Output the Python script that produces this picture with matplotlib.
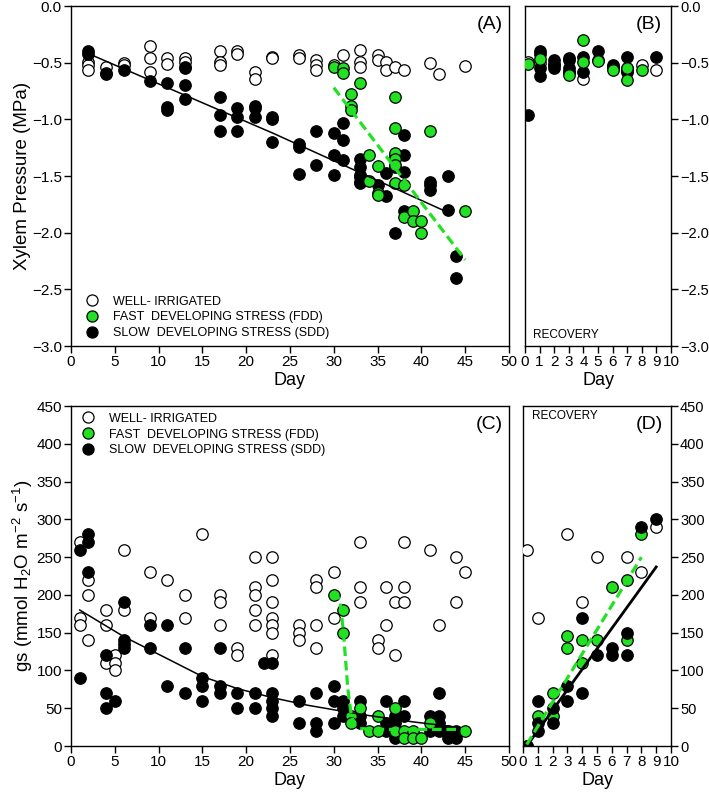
import numpy as np
import matplotlib
matplotlib.use("Agg")
import matplotlib.pyplot as plt
from matplotlib.lines import Line2D

plt.rcParams['font.family'] = ['Liberation Sans', 'DejaVu Sans']
plt.rcParams['mathtext.fontset'] = 'custom'
plt.rcParams['mathtext.rm'] = 'Liberation Sans'
plt.rcParams['mathtext.it'] = 'Liberation Sans:italic'

GREEN = '#22e022'

# ---------------- Panel A: xylem pressure during stress ----------------
a_wi_day = [2, 2, 2, 4, 4, 6, 6, 9, 9, 9, 11, 11, 13, 13, 17, 17, 17, 19, 19, 21, 21,
            23, 23, 26, 26, 28, 28, 28, 30, 31, 33, 33, 33, 35, 35, 36, 36, 37, 38, 41, 42, 45]
a_wi_val = [-0.49, -0.52, -0.56, -0.535, -0.59, -0.50, -0.52, -0.35, -0.46, -0.58, -0.46, -0.51,
            -0.46, -0.49, -0.40, -0.49, -0.52, -0.40, -0.42, -0.58, -0.64, -0.45, -0.46, -0.43,
            -0.46, -0.48, -0.52, -0.56, -0.52, -0.43, -0.39, -0.49, -0.535, -0.43, -0.48, -0.49,
            -0.56, -0.54, -0.56, -0.50, -0.60, -0.53]

a_sdd_day = [2, 2, 4, 6, 9, 11, 11, 11, 13, 13, 13, 13, 17, 17, 17, 19, 19, 19, 21, 21, 21,
             23, 23, 23, 26, 26, 26, 28, 28, 30, 30, 30, 31, 31, 31, 33, 33, 33, 33, 33, 33,
             35, 36, 36, 37, 37, 37, 38, 38, 38, 38, 41, 41, 41, 43, 43, 44, 44]
a_sdd_val = [-0.40, -0.42, -0.60, -0.565, -0.66, -0.68, -0.89, -0.92, -0.535, -0.55, -0.70, -0.82,
             -0.80, -0.96, -1.10, -0.90, -0.98, -1.10, -0.88, -0.90, -0.98, -0.98, -1.00, -1.20,
             -1.22, -1.24, -1.48, -1.10, -1.40, -1.12, -1.31, -1.49, -1.035, -1.18, -1.36,
             -1.35, -1.42, -1.49, -1.51, -1.55, -1.56, -1.58, -1.47, -1.68, -1.32, -1.42, -2.00,
             -1.14, -1.31, -1.46, -1.81, -1.55, -1.58, -1.62, -1.50, -1.80, -2.21, -2.40]

a_fdd_day = [30, 31, 31, 32, 32, 32, 33, 34, 34, 35, 35, 35, 37, 37, 37, 37, 37, 37,
             38, 38, 39, 39, 40, 40, 41, 45]
a_fdd_val = [-0.535, -0.55, -0.59, -0.78, -0.88, -0.92, -0.68, -1.31, -1.54, -1.41, -1.65, -1.67,
             -0.80, -1.08, -1.30, -1.35, -1.40, -1.56, -1.58, -1.86, -1.81, -1.90, -1.90, -2.00,
             -1.10, -1.81]

a_sdd_fit_day = [2, 23, 43]
a_sdd_fit_val = [-0.42, -1.12, -1.82]
a_fdd_fit_day = [30, 45]
a_fdd_fit_val = [-0.72, -2.24]

# ---------------- Panel B: xylem pressure during recovery ----------------
b_wi_day = [0.2, 1, 2, 3, 4, 5, 6, 7, 8, 9]
b_wi_val = [-0.49, -0.50, -0.52, -0.58, -0.64, -0.48, -0.55, -0.55, -0.52, -0.56]
b_sdd_day = [0.2, 1, 1, 1, 1, 2, 2, 2, 3, 3, 3, 3, 4, 4, 5, 6, 6, 7, 7, 7, 9]
b_sdd_val = [-0.96, -0.40, -0.42, -0.55, -0.62, -0.48, -0.51, -0.55, -0.46, -0.48, -0.55, -0.58,
             -0.45, -0.58, -0.40, -0.52, -0.535, -0.45, -0.57, -0.58, -0.45]
b_fdd_day = [0.2, 1, 3, 4, 4, 5, 6, 7, 7, 8]
b_fdd_val = [-0.51, -0.47, -0.61, -0.30, -0.49, -0.485, -0.56, -0.55, -0.65, -0.565]

# ---------------- Panel C: stomatal conductance during stress ----------------
c_wi_day = [1, 1, 1, 2, 2, 2, 4, 4, 4, 5, 5, 5, 6, 6, 9, 9, 11, 13, 13, 15, 17, 17, 17, 19, 19,
            21, 21, 21, 21, 21, 23, 23, 23, 23, 23, 23, 23, 26, 26, 26, 28, 28, 28, 28, 30, 30,
            33, 33, 33, 35, 35, 36, 36, 37, 37, 38, 38, 38, 41, 42, 44, 44, 45]
c_wi_val = [270, 170, 160, 220, 200, 140, 180, 160, 110, 120, 110, 100, 260, 180, 230, 170, 220,
            200, 170, 280, 200, 190, 160, 130, 120, 250, 210, 200, 180, 160, 250, 220, 190, 170,
            160, 150, 120, 160, 150, 140, 220, 210, 160, 130, 230, 170, 270, 210, 190, 140, 130,
            210, 160, 190, 120, 270, 210, 190, 260, 160, 250, 190, 230]

c_sdd_day = [1, 1, 2, 2, 2, 4, 4, 4, 5, 6, 6, 6, 6, 9, 9, 11, 11, 13, 13, 15, 15, 15, 17, 17, 17,
             19, 19, 21, 21, 22, 23, 23, 23, 23, 23, 26, 26, 28, 28, 28, 30, 30, 30, 31, 31, 31,
             33, 33, 33, 36, 36, 36, 37, 37, 37, 38, 38, 41, 41, 42, 42, 42, 42, 43, 43, 44, 44]
c_sdd_val = [260, 90, 280, 270, 230, 120, 70, 50, 60, 190, 140, 135, 130, 160, 130, 160, 80, 130,
             70, 90, 80, 60, 130, 80, 70, 70, 50, 70, 50, 110, 110, 70, 60, 50, 40, 60, 30, 70, 30,
             20, 80, 60, 30, 60, 50, 40, 60, 40, 30, 60, 30, 20, 40, 30, 10, 60, 40, 40, 20, 70,
             40, 30, 20, 20, 10, 20, 10]

c_fdd_day = [30, 31, 31, 32, 32, 33, 34, 35, 35, 37, 37, 38, 38, 39, 39, 40, 41, 45]
c_fdd_val = [200, 180, 150, 40, 30, 50, 20, 40, 20, 50, 20, 20, 10, 20, 10, 10, 30, 20]

c_sdd_fit_day = [1, 6, 15, 19, 23, 27, 33, 39, 44]
c_sdd_fit_val = [180, 145, 92, 76, 64, 54, 42, 32, 25]
c_fdd_fit_day = [30, 30.7, 31.1, 31.6, 32.0, 32.4, 33, 36, 45]
c_fdd_fit_val = [205, 193, 151, 76, 40, 27, 23, 22, 22]

# ---------------- Panel D: stomatal conductance during recovery ----------------
d_wi_day = [0.25, 1, 3, 4, 5, 7, 8, 9]
d_wi_val = [260, 170, 280, 190, 250, 250, 230, 290]
d_fdd_day = [0.25, 1, 2, 2, 3, 3, 4, 4, 5, 6, 7, 7, 8]
d_fdd_val = [0, 40, 70, 40, 145, 130, 140, 110, 140, 210, 220, 140, 280]
d_sdd_day = [0.25, 1, 1, 1, 2, 2, 3, 3, 4, 4, 5, 6, 6, 7, 7, 8, 9]
d_sdd_val = [0, 60, 30, 20, 50, 30, 80, 60, 170, 70, 120, 130, 120, 150, 120, 290, 300]

d_sdd_fit_day = [0.25, 9]
d_sdd_fit_val = [0, 237]
d_fdd_fit_day = [0.25, 8]
d_fdd_fit_val = [2, 250]

legend_labels = ['WELL- IRRIGATED', 'FAST  DEVELOPING STRESS (FDD)', 'SLOW  DEVELOPING STRESS (SDD)']

# ---------------- Figure ----------------
fig = plt.figure(figsize=(7.09, 7.96), dpi=100)
axA = fig.add_axes([0.1001, 0.5653, 0.6178, 0.4271])
axB = fig.add_axes([0.7405, 0.5653, 0.2059, 0.4271])
axC = fig.add_axes([0.1001, 0.0628, 0.6178, 0.4271])
axD = fig.add_axes([0.7377, 0.0628, 0.2087, 0.4271])

ms = 68
kw_open = dict(s=ms, facecolor='white', edgecolor='black', linewidths=0.9, zorder=3)
kw_sdd = dict(s=ms, facecolor='black', edgecolor='black', linewidths=0.9, zorder=4)
kw_fdd = dict(s=ms, facecolor=GREEN, edgecolor='black', linewidths=0.9, zorder=5)
dash = (0, (3, 1.5))

def style(ax, xlim, ylim, xticks, yticks, right=False):
    ax.set_xlim(*xlim)
    ax.set_ylim(*ylim)
    ax.set_xticks(xticks)
    ax.set_yticks(yticks)
    ax.tick_params(direction='out', length=5, width=1, labelsize=11, pad=1.5)
    if right:
        ax.yaxis.tick_right()
        ax.tick_params(axis='y', left=False, labelleft=False, labelsize=10.5, pad=1.5)
    for s in ax.spines.values():
        s.set_linewidth(1)
    ax.set_xlabel('Day', fontsize=13, labelpad=2)

# Panel A
axA.scatter(a_wi_day, a_wi_val, **kw_open)
axA.scatter(a_sdd_day, a_sdd_val, **kw_sdd)
axA.scatter(a_fdd_day, a_fdd_val, **kw_fdd)
axA.plot(a_sdd_fit_day, a_sdd_fit_val, color='black', lw=1.1, zorder=6)
axA.plot(a_fdd_fit_day, a_fdd_fit_val, color=GREEN, lw=2.3, ls=dash, zorder=6)
style(axA, (0, 50), (-3, 0), np.arange(0, 51, 5), np.arange(-3, 0.01, 0.5))
axA.set_ylabel('Xylem Pressure (MPa)', fontsize=13.5, labelpad=1)
axA.text(0.986, 0.947, '(A)', transform=axA.transAxes, ha='right', va='center', fontsize=14)

# Panel B
axB.scatter(b_wi_day, b_wi_val, **kw_open)
axB.scatter(b_sdd_day, b_sdd_val, **kw_sdd)
axB.scatter(b_fdd_day, b_fdd_val, **kw_fdd)
style(axB, (0, 10), (-3, 0), np.arange(0, 11, 1), np.arange(-3, 0.01, 0.5), right=True)
axB.text(0.938, 0.947, '(B)', transform=axB.transAxes, ha='right', va='center', fontsize=14)
axB.text(0.055, 0.032, 'RECOVERY', transform=axB.transAxes, ha='left', va='center', fontsize=8.5)

# Panel C
axC.scatter(c_wi_day, c_wi_val, **kw_open)
axC.scatter(c_sdd_day, c_sdd_val, **kw_sdd)
axC.scatter(c_fdd_day, c_fdd_val, **kw_fdd)
axC.plot(c_sdd_fit_day, c_sdd_fit_val, color='black', lw=1.1, zorder=6)
axC.plot(c_fdd_fit_day, c_fdd_fit_val, color=GREEN, lw=2.3, ls=dash, zorder=6)
style(axC, (0, 50), (0, 450), np.arange(0, 51, 5), np.arange(0, 451, 50))
axC.set_ylabel('gs (mmol H$_2$O m$^{-2}$ s$^{-1}$)', fontsize=13.5, labelpad=1)
axC.text(0.986, 0.947, '(C)', transform=axC.transAxes, ha='right', va='center', fontsize=14)

# Panel D
axD.scatter(d_wi_day, d_wi_val, **kw_open)
axD.scatter(d_fdd_day, d_fdd_val, **dict(kw_fdd, zorder=4))
axD.scatter(d_sdd_day, d_sdd_val, **dict(kw_sdd, zorder=5))
axD.plot(d_sdd_fit_day, d_sdd_fit_val, color='black', lw=2, zorder=6)
axD.plot(d_fdd_fit_day, d_fdd_fit_val, color=GREEN, lw=2.3, ls=dash, zorder=6)
style(axD, (0, 10), (0, 450), np.arange(0, 11, 1), np.arange(0, 451, 50), right=True)
axD.text(0.946, 0.947, '(D)', transform=axD.transAxes, ha='right', va='center', fontsize=14)
axD.text(0.06, 0.97, 'RECOVERY', transform=axD.transAxes, ha='left', va='center', fontsize=8.5)

# Legends
handles = [
    Line2D([], [], ls='', marker='o', ms=8, mfc='white', mec='black', mew=0.9),
    Line2D([], [], ls='', marker='o', ms=8, mfc=GREEN, mec='black', mew=0.9),
    Line2D([], [], ls='', marker='o', ms=8, mfc='black', mec='black', mew=0.9),
]
leg_kw = dict(frameon=False, fontsize=9, handlelength=1.0, handletextpad=1.2,
              labelspacing=0.3, borderpad=0, borderaxespad=0)
axA.legend(handles, legend_labels, loc='lower left', bbox_to_anchor=(0.034, 0.02), **leg_kw)
axC.legend(handles, legend_labels, loc='upper left', bbox_to_anchor=(0.024, 0.98), **leg_kw)

fig.savefig('out.png', dpi=100)
